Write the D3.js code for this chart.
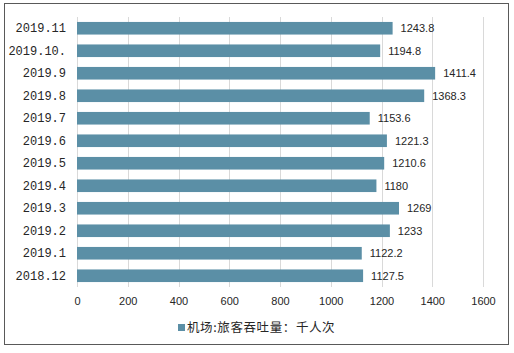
<!DOCTYPE html>
<html>
<head>
<meta charset="utf-8">
<script src="https://cdn.jsdelivr.net/npm/d3@7"></script>
<style>
  body { margin: 0; background: #fff; }
</style>
</head>
<body>
<div id="wrapper"></div>
<script>
const months = ["2019.11", "2019.10.", "2019.9", "2019.8", "2019.7", "2019.6", "2019.5",
    "2019.4", "2019.3", "2019.2", "2019.1", "2018.12"];
const passengers = [1243.8, 1194.8, 1411.4, 1368.3, 1153.6, 1221.3, 1210.6,
    1180, 1269, 1233, 1122.2, 1127.5];
const xTicks = [0, 200, 400, 600, 800, 1000, 1200, 1400, 1600];
const seriesName = "机场:旅客吞吐量：千人次";

const dimensions = {
    width: 514,
    height: 353,
    margin: { top: 17, right: 31, bottom: 66, left: 77 },
};
dimensions.boundedWidth = dimensions.width - dimensions.margin.left - dimensions.margin.right;
dimensions.boundedHeight = dimensions.height - dimensions.margin.top - dimensions.margin.bottom;

const barColor = "#5b8fa6";

const svg = d3.select("#wrapper")
    .append("svg")
        .attr("width", dimensions.width)
        .attr("height", dimensions.height);

// outer frame
svg.append("rect")
    .attr("x", 4.5)
    .attr("y", 3.5)
    .attr("width", 504)
    .attr("height", 341)
    .attr("fill", "#fff")
    .attr("stroke", "#595959")
    .attr("stroke-width", 1);

const bounds = svg.append("g")
    .attr("transform", `translate(${dimensions.margin.left}, ${dimensions.margin.top})`);

const xScale = d3.scaleLinear()
    .domain([0, 1600])
    .range([0, dimensions.boundedWidth]);

const yScale = d3.scaleBand()
    .domain(months)
    .range([0, dimensions.boundedHeight])
    .paddingInner(0.44)
    .paddingOuter(0.22);

// grid
bounds.append("g")
    .selectAll("line")
    .data(xTicks)
    .join("line")
        .attr("x1", d => Math.round(xScale(d)) + 0.5)
        .attr("x2", d => Math.round(xScale(d)) + 0.5)
        .attr("y1", 0)
        .attr("y2", dimensions.boundedHeight)
        .attr("stroke", "#d9d9d9")
        .attr("stroke-width", 1);

bounds.append("g")
    .selectAll("rect")
    .data(passengers)
    .join("rect")
        .attr("x", 0)
        .attr("y", (d, i) => yScale(months[i]))
        .attr("width", d => xScale(d))
        .attr("height", yScale.bandwidth())
        .attr("fill", barColor);

bounds.append("g")
    .selectAll("text")
    .data(passengers)
    .join("text")
        .attr("x", d => xScale(d) + 8)
        .attr("y", (d, i) => yScale(months[i]) + yScale.bandwidth() / 2)
        .attr("dy", "0.35em")
        .attr("font-family", "'Liberation Sans', Arial, sans-serif")
        .attr("font-size", 11)
        .attr("fill", "#262626")
        .text(d => d);

const xAxis = bounds.append("g")
    .attr("transform", `translate(0, ${dimensions.boundedHeight})`)
    .call(d3.axisBottom(xScale).tickValues(xTicks).tickFormat(d3.format("d")).tickSize(0).tickPadding(10));
xAxis.select(".domain").remove();
xAxis.selectAll("text")
    .attr("font-family", "'Liberation Sans', Arial, sans-serif")
    .attr("font-size", 11)
    .attr("fill", "#262626");

const yAxis = bounds.append("g")
    .call(d3.axisLeft(yScale).tickSize(0).tickPadding(11));
yAxis.select(".domain").remove();
yAxis.selectAll("text")
    .attr("font-family", "'Liberation Mono', 'DejaVu Sans Mono', monospace")
    .attr("font-size", 12)
    .attr("fill", "#262626");

// legend
const legend = svg.append("g")
    .attr("transform", "translate(178, 328)");
legend.append("rect")
    .attr("x", 0)
    .attr("y", -4)
    .attr("width", 7)
    .attr("height", 7)
    .attr("fill", barColor);
legend.append("text")
    .attr("x", 9)
    .attr("y", 0)
    .attr("dy", "0.35em")
    .attr("font-family", "'Noto Sans CJK SC', sans-serif")
    .attr("font-size", 12.5)
    .attr("letter-spacing", 0.6)
    .attr("fill", "#262626")
    .text(seriesName);
</script>
</body>
</html>
